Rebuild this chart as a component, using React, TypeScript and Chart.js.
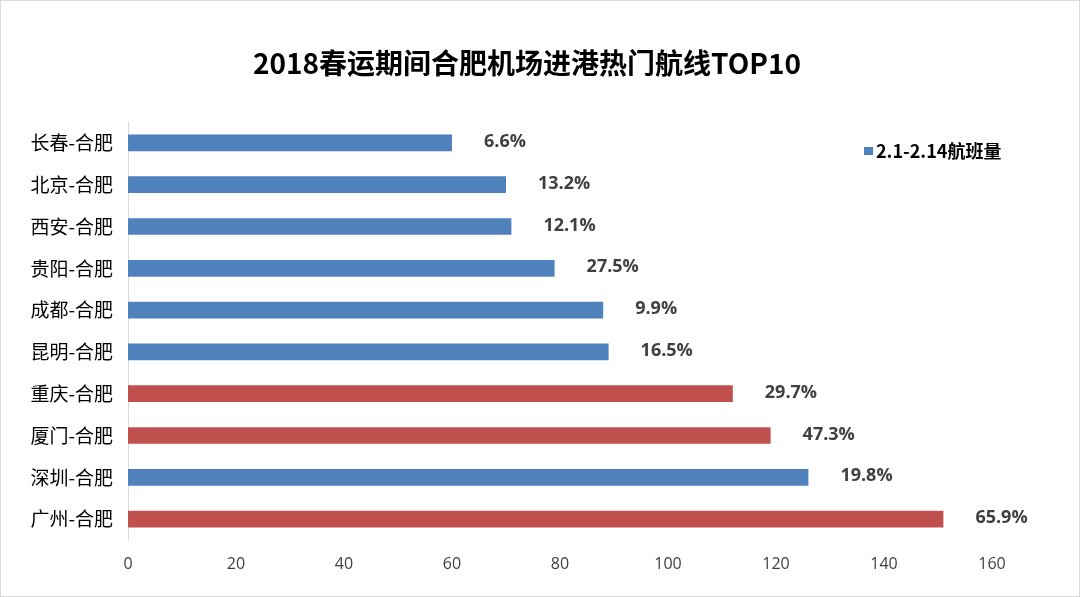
import React, { useEffect, useRef } from "react";
import { Chart, registerables } from "chart.js";

Chart.register(...registerables);

const TITLE = "2018春运期间合肥机场进港热门航线TOP10";
const SERIES_NAME = "2.1-2.14航班量";
const categories = [
  "长春-合肥",
  "北京-合肥",
  "西安-合肥",
  "贵阳-合肥",
  "成都-合肥",
  "昆明-合肥",
  "重庆-合肥",
  "厦门-合肥",
  "深圳-合肥",
  "广州-合肥",
];
const flights = [60, 70, 71, 79, 88, 89, 112, 119, 126, 151];
const growth = ["6.6%", "13.2%", "12.1%", "27.5%", "9.9%", "16.5%", "29.7%", "47.3%", "19.8%", "65.9%"];
const highlighted = ["重庆-合肥", "厦门-合肥", "广州-合肥"];
const xTicks = [0, 20, 40, 60, 80, 100, 120, 140, 160];

const BLUE = "#4F81BD";
const RED = "#C0504D";

export default function App() {
  const canvasRef = useRef<HTMLCanvasElement | null>(null);

  useEffect(() => {
    const canvas = canvasRef.current;
    if (!canvas) return;

    const frame = {
      id: "frame",
      beforeDraw(chart: any) {
        const ctx = chart.ctx;
        ctx.save();
        ctx.fillStyle = "#ffffff";
        ctx.fillRect(0, 0, chart.width, chart.height);
        ctx.strokeStyle = "#D9D9D9";
        ctx.lineWidth = 1;
        ctx.strokeRect(0.5, 0.5, chart.width - 1, chart.height - 1);
        ctx.restore();
      },
      afterDraw(chart: any) {
        const ctx = chart.ctx;
        ctx.save();
        ctx.fillStyle = "#000000";
        ctx.font = "bold 28px 'Noto Sans CJK SC', sans-serif";
        ctx.textAlign = "center";
        ctx.textBaseline = "middle";
        ctx.fillText(TITLE, 527, 63);
        // legend
        ctx.fillStyle = BLUE;
        ctx.fillRect(864, 147, 9, 8);
        ctx.fillStyle = "#000000";
        ctx.font = "bold 18px 'Noto Sans CJK SC', sans-serif";
        ctx.textAlign = "left";
        ctx.fillText(SERIES_NAME, 876, 151);
        ctx.restore();
      },
    };

    const labels = {
      id: "barLabels",
      afterDatasetsDraw(chart: any) {
        const ctx = chart.ctx;
        const meta = chart.getDatasetMeta(0);
        ctx.save();
        ctx.fillStyle = "#404040";
        ctx.font = "bold 18px 'Open Sans', sans-serif";
        ctx.textAlign = "left";
        ctx.textBaseline = "middle";
        meta.data.forEach((el: any, i: number) => {
          ctx.fillText(growth[i], el.x + 32, el.y - 1);
        });
        ctx.restore();
      },
    };

    const chart = new Chart(canvas, {
      type: "bar",
      data: {
        labels: categories,
        datasets: [
          {
            label: SERIES_NAME,
            data: flights,
            backgroundColor: categories.map((c) => (highlighted.includes(c) ? RED : BLUE)),
            barPercentage: 0.4,
            categoryPercentage: 1,
          },
        ],
      },
      options: {
        indexAxis: "y",
        responsive: false,
        animation: false,
        devicePixelRatio: 1,
        layout: { padding: { top: 122, left: 0, right: 88, bottom: 0 } },
        plugins: {
          legend: { display: false },
          title: { display: false },
          tooltip: { enabled: false },
        },
        scales: {
          y: {
            grid: { display: false, drawTicks: false },
            border: { display: true, color: "#D9D9D9", width: 1 },
            ticks: {
              color: "#000000",
              padding: 15,
              font: { family: "'Noto Sans CJK SC', sans-serif", size: 19 },
            },
            afterFit(scale: any) {
              scale.width = 128;
            },
          },
          x: {
            min: 0,
            max: 160,
            afterBuildTicks(scale: any) {
              scale.ticks = xTicks.map((v) => ({ value: v }));
            },
            grid: { display: false, drawTicks: false },
            border: { display: false },
            ticks: {
              color: "#404040",
              padding: 15,
              font: { family: "'Open Sans', sans-serif", size: 16 },
            },
            afterFit(scale: any) {
              scale.height = 57;
            },
          },
        },
      },
      plugins: [frame, labels],
    } as any);

    return () => chart.destroy();
  }, []);

  return (
    <div style={{ position: "absolute", left: 0, top: 0, width: 1080, height: 597 }}>
      <canvas ref={canvasRef} width={1080} height={597} style={{ display: "block" }} />
    </div>
  );
}
